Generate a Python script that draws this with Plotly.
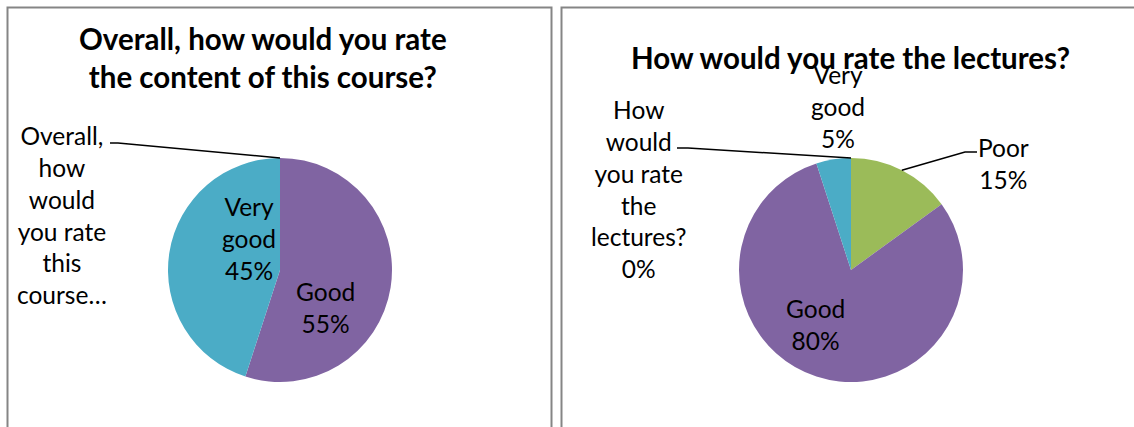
import math
import plotly.graph_objects as go

# Survey answers, one pie per question
content_title = "Overall, how would you rate<br>the content of this course?"
content_labels = ["Overall, how would you rate this course…", "Good", "Very good"]
content_values = [0, 55, 45]

lectures_title = "How would you rate the lectures?"
lectures_labels = ["How would you rate the lectures?", "Poor", "Good", "Very good"]
lectures_values = [0, 15, 80, 5]

COLORS = {"Good": "#8064A2", "Very good": "#4BACC6", "Poor": "#9BBB59"}
W, H = 1134, 427
FONT = "Lato"
TXT = 24.5
TITLE = 29.5

fig = go.Figure()


def add_pie(labels, values, cx, cy, r):
    fig.add_trace(go.Pie(
        labels=labels,
        values=values,
        sort=False,
        direction="clockwise",
        rotation=0,
        marker=dict(colors=[COLORS.get(l, "#ffffff") for l in labels],
                    line=dict(width=0)),
        textinfo="none",
        hoverinfo="label+percent",
        showlegend=False,
        domain=dict(x=[(cx - r) / W, (cx + r) / W],
                    y=[(H - cy - r) / H, (H - cy + r) / H]),
    ))


def mid_point(values, i, cx, cy, r):
    """Point on the rim at the middle angle of slice i."""
    total = sum(values)
    start = sum(values[:i]) / total * 360
    ang = math.radians(start + values[i] / total * 180)
    return cx + r * math.sin(ang), cy - r * math.cos(ang)


def label_text(value, total, wrap, show_pct=True):
    pct = f"{round(value / total * 100)}%"
    return "<br>".join(wrap + ([pct] if show_pct else []))


def note(text, x, y, size=TXT, bold=False):
    fig.add_annotation(
        text=f"<b>{text}</b>" if bold else text,
        x=x, y=y, xref="x", yref="y", showarrow=False,
        xanchor="center", yanchor="middle", align="center",
        font=dict(family=FONT, size=size, color="#000000"),
    )


def leader(pts):
    path = "M " + " L ".join(f"{x:.1f} {y:.1f}" for x, y in pts)
    fig.add_shape(type="path", path=path, xref="x", yref="y",
                  line=dict(color="#000000", width=1.5), layer="above")


# Panel frames
for x0, x1 in [(7.5, 551.5), (561.5, 1150)]:
    fig.add_shape(type="rect", x0=x0, x1=x1, y0=7.5, y1=460, xref="x", yref="y",
                  line=dict(color="#858585", width=2), fillcolor="rgba(0,0,0,0)",
                  layer="below")

# ---- Left chart: content of the course
lcx, lcy, lr = 280, 270, 112
add_pie(content_labels, content_values, lcx, lcy, lr)
tot = sum(content_values)
note(content_title, 263, 57, size=TITLE, bold=True)
note(label_text(content_values[2], tot, ["Very", "good"]), 249, 238)
note(label_text(content_values[1], tot, ["Good"]), 325, 307)
note(label_text(content_values[0], tot,
                ["Overall,", "how", "would", "you rate", "this", "course…"],
                show_pct=False), 62, 215)
px, py = mid_point(content_values, 0, lcx, lcy, lr)
leader([(110, 143), (118, 143), (px, py)])

# ---- Right chart: lectures
rcx, rcy, rr = 851, 270, 112
add_pie(lectures_labels, lectures_values, rcx, rcy, rr)
tot = sum(lectures_values)
note(lectures_title, 850, 57, size=TITLE, bold=True)
note(label_text(lectures_values[3], tot, ["Very", "good"]), 838, 106)
note(label_text(lectures_values[1], tot, ["Poor"]), 1003, 163)
note(label_text(lectures_values[2], tot, ["Good"]), 815, 324)
note(label_text(lectures_values[0], tot,
                ["How", "would", "you rate", "the", "lectures?"]), 639, 189)
px, py = mid_point(lectures_values, 0, rcx, rcy, rr)
leader([(677, 148), (688, 148), (px, py)])
px, py = mid_point(lectures_values, 1, rcx, rcy, rr)
leader([(px, py), (965, 152), (977, 152)])

fig.update_layout(
    width=W, height=H,
    margin=dict(l=0, r=0, t=0, b=0),
    paper_bgcolor="#ffffff", plot_bgcolor="#ffffff",
    xaxis=dict(range=[0, W], visible=False, fixedrange=True),
    yaxis=dict(range=[H, 0], visible=False, fixedrange=True),
    showlegend=False,
)

fig.write_html("out.html")
